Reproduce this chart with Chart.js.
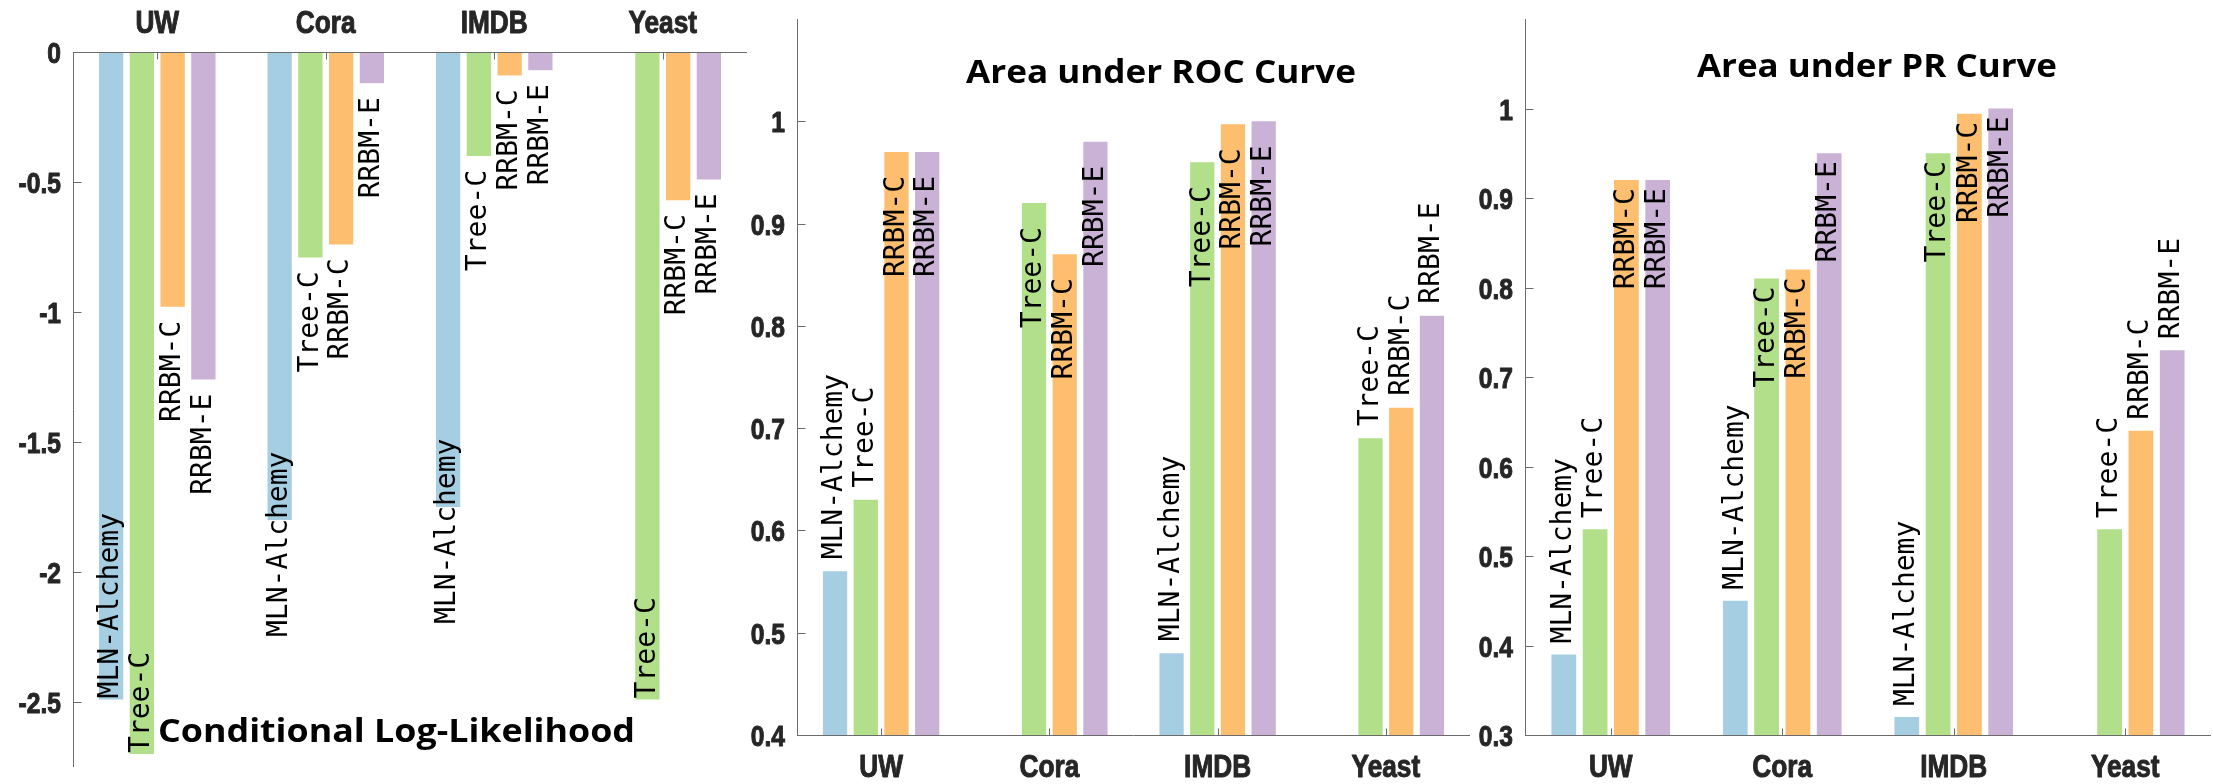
<!DOCTYPE html>
<html><head><meta charset="utf-8">
<script src="https://cdn.jsdelivr.net/npm/chart.js@4.4.0/dist/chart.umd.min.js"></script>
<style>
html,body{margin:0;padding:0;background:#fff;width:2213px;height:784px;overflow:hidden;position:relative;}
canvas{position:absolute;top:0;}
</style></head><body>
<canvas id="c1" width="760" height="784" style="left:0px"></canvas>
<canvas id="c2" width="780" height="784" style="left:700px"></canvas>
<canvas id="c3" width="783" height="784" style="left:1430px"></canvas>
<script>
// ---------- data ----------
const categories = ['UW', 'Cora', 'IMDB', 'Yeast'];
const seriesNames = ['MLN-Alchemy', 'Tree-C', 'RRBM-C', 'RRBM-E'];
const seriesColors = ['#a6cee3', '#b2df8a', '#fdbf6f', '#cab2d6'];

// Conditional Log-Likelihood
const cllMLN   = [-2.49, -1.80, -1.75, null];
const cllTree  = [-2.70, -0.79, -0.40, -2.49];
const cllRRBMC = [-0.98, -0.74, -0.09, -0.57];
const cllRRBME = [-1.26, -0.12, -0.07, -0.49];
const cllTicks = [0, -0.5, -1, -1.5, -2, -2.5];

// Area under ROC Curve
const rocMLN   = [0.56, null, 0.48, null];
const rocTree  = [0.63, 0.92, 0.96, 0.69];
const rocRRBMC = [0.97, 0.87, 0.997, 0.72];
const rocRRBME = [0.97, 0.98, 1.00, 0.81];
const rocTicks = [0.4, 0.5, 0.6, 0.7, 0.8, 0.9, 1];

// Area under PR Curve
const prMLN   = [0.39, 0.45, 0.32, null];
const prTree  = [0.53, 0.81, 0.95, 0.53];
const prRRBMC = [0.92, 0.82, 0.994, 0.64];
const prRRBME = [0.92, 0.95, 1.00, 0.73];
const prTicks = [0.3, 0.4, 0.5, 0.6, 0.7, 0.8, 0.9, 1];

// ---------- rendering ----------
const AXFONT = "'Liberation Sans', Arial, sans-serif";
const NARROW_SCALE = 0.82;
const fmt = v => String(Math.round(v * 10) / 10);

function narrowText(ctx, text, x, y, align, size) {
  ctx.save();
  ctx.font = 'bold ' + size + 'px ' + AXFONT;
  ctx.textAlign = align;
  ctx.textBaseline = 'alphabetic';
  ctx.translate(x, y);
  ctx.scale(NARROW_SCALE, 1);
  ctx.lineWidth = 1;
  ctx.lineJoin = 'round';
  ctx.strokeStyle = ctx.fillStyle;
  ctx.fillText(text, 0, 0);
  ctx.strokeText(text, 0, 0);
  ctx.restore();
}

function buildChart(id, o) {
  const canvas = document.getElementById(id);
  const W = canvas.width, H = canvas.height;
  const decor = {
    id: 'decor_' + id,
    afterDatasetsDraw(chart) {
      const { ctx, chartArea: a, scales: { x, y } } = chart;
      ctx.save();
      // axes
      ctx.strokeStyle = '#6b6b6b';
      ctx.lineWidth = 1;
      const ax = Math.round(a.left) + 0.5;
      const ay = (o.xTop ? Math.round(a.top) : Math.round(a.bottom)) + 0.5;
      ctx.beginPath();
      ctx.moveTo(ax, a.top); ctx.lineTo(ax, a.bottom);
      ctx.moveTo(a.left, ay); ctx.lineTo(a.right, ay);
      y.ticks.forEach(t => {
        const py = Math.round(y.getPixelForValue(t.value)) + 0.5;
        ctx.moveTo(ax, py); ctx.lineTo(ax + 8, py);
      });
      x.ticks.forEach((t, i) => {
        const px = Math.round(x.getPixelForTick(i)) + 0.5;
        ctx.moveTo(px, ay); ctx.lineTo(px, ay + (o.xTop ? 7 : -7));
      });
      ctx.stroke();
      // axis tick labels
      ctx.fillStyle = '#262626';
      y.ticks.forEach(t => {
        const py = y.getPixelForValue(t.value);
        narrowText(ctx, fmt(t.value), a.left - 12, py + 11, 'right', 30);
      });
      x.ticks.forEach((t, i) => {
        const px = x.getPixelForTick(i);
        const by = o.xTop ? a.top - 19 : a.bottom + 42;
        narrowText(ctx, chart.data.labels[i], px, by, 'center', 32);
      });
      // bar labels
      ctx.fillStyle = '#000';
      ctx.font = '28px "DejaVu Sans Mono", monospace';
      ctx.textBaseline = 'middle';
      chart.data.datasets.forEach((ds, di) => {
        const meta = chart.getDatasetMeta(di);
        meta.data.forEach((el, j) => {
          const v = ds.data[j];
          if (v === null || v === undefined) return;
          const p = o.place(v);
          ctx.save();
          ctx.translate(el.x, el.y + p.dy);
          ctx.rotate(-Math.PI / 2);
          ctx.textAlign = p.anchor === 'start' ? 'left' : 'right';
          ctx.fillText(ds.label, 0, 0);
          ctx.restore();
        });
      });
      // in-plot title
      const t = o.title;
      ctx.font = "bold 33px 'Open Sans', sans-serif";
      ctx.textBaseline = 'alphabetic';
      ctx.textAlign = 'left';
      const w = ctx.measureText(t.text).width;
      const sx = t.width / w;
      ctx.save();
      const left = t.align === 'center' ? t.x - t.width / 2 : t.x;
      ctx.translate(left, t.y);
      ctx.scale(sx, 1);
      ctx.fillText(t.text, 0, 0);
      ctx.restore();
      ctx.restore();
    }
  };
  return new Chart(canvas, {
    type: 'bar',
    data: {
      labels: categories,
      datasets: o.series.map((d, i) => ({
        label: seriesNames[i], data: d, backgroundColor: seriesColors[i],
        borderWidth: 0, categoryPercentage: 0.73, barPercentage: 0.79
      }))
    },
    options: {
      responsive: false, animation: false, devicePixelRatio: 1,
      layout: { padding: {
        left: 0, right: W - o.area.right,
        top: o.xTop ? 0 : o.area.top,
        bottom: o.xTop ? H - o.area.bottom : 0 } },
      plugins: { legend: { display: false }, tooltip: { enabled: false }, title: { display: false } },
      scales: {
        x: {
          position: o.xTop ? 'top' : 'bottom',
          grid: { display: false }, border: { display: false },
          ticks: { display: false, autoSkip: false },
          afterFit: s => { s.height = o.xTop ? o.area.top : H - o.area.bottom; }
        },
        y: {
          min: o.min, max: o.max,
          grid: { display: false }, border: { display: false },
          afterBuildTicks: s => { s.ticks = o.ticks.map(v => ({ value: v })); },
          ticks: { display: false },
          afterFit: s => { s.width = o.area.left; }
        }
      }
    },
    plugins: [decor]
  });
}

buildChart('c1', {
  series: [cllMLN, cllTree, cllRRBMC, cllRRBME], ticks: cllTicks, min: -2.75, max: 0,
  xTop: true,
  area: { left: 73, right: 747, top: 52, bottom: 767 },
  place: v => v > -1.5 ? { anchor: 'end', dy: 14 } : (v <= -2.3 ? { anchor: 'start', dy: -1 } : { anchor: 'start', dy: 117 }),
  title: { text: 'Conditional Log-Likelihood', x: 158, y: 742, width: 477, align: 'left' }
});
buildChart('c2', {
  series: [rocMLN, rocTree, rocRRBMC, rocRRBME], ticks: rocTicks, min: 0.4, max: 1.1,
  xTop: false,
  area: { left: 97, right: 770, top: 19, bottom: 735 },
  place: v => v >= 0.85 ? { anchor: 'end', dy: 24 } : { anchor: 'start', dy: -12 },
  title: { text: 'Area under ROC Curve', x: 461, y: 83, width: 390, align: 'center' }
});
buildChart('c3', {
  series: [prMLN, prTree, prRRBMC, prRRBME], ticks: prTicks, min: 0.3, max: 1.1,
  xTop: false,
  area: { left: 95, right: 781, top: 19, bottom: 735 },
  place: v => v >= 0.8 ? { anchor: 'end', dy: 8 } : { anchor: 'start', dy: -11 },
  title: { text: 'Area under PR Curve', x: 447, y: 77, width: 360, align: 'center' }
});
</script>
</body></html>
